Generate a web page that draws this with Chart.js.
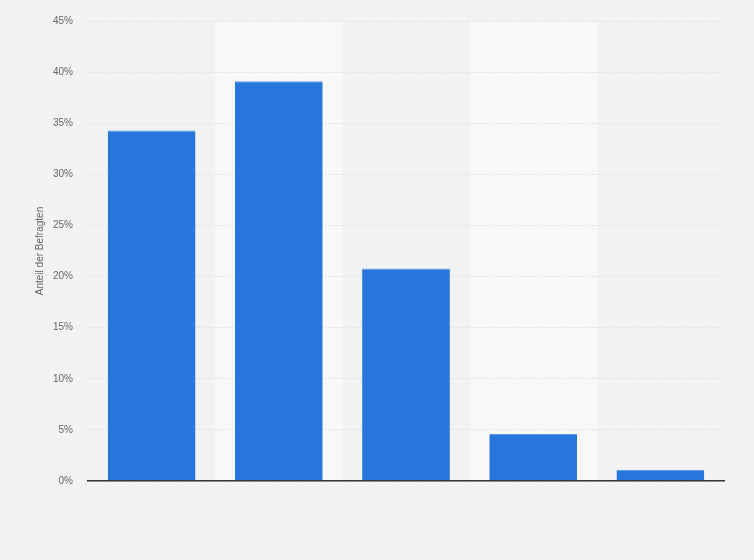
<!DOCTYPE html>
<html>
<head>
<meta charset="utf-8">
<script src="https://cdn.jsdelivr.net/npm/chart.js@4"></script>
<style>
  html, body { margin: 0; padding: 0; background: #f2f2f2; }
  #wrap { width: 754px; height: 560px; }
</style>
</head>
<body>
<div id="wrap"><canvas id="chart" width="754" height="560"></canvas></div>
<script>
// Chart data
const categories = ['1', '2', '3', '4', '5'];
const shares = [34.3, 39.1, 20.8, 4.6, 1.1];
const yTicks = [0, 5, 10, 15, 20, 25, 30, 35, 40, 45];

// Alternating lighter column bands behind the bars
const bandPlugin = {
    id: 'bands',
    beforeDraw: function(chart) {
        const ctx = chart.ctx;
        const area = chart.chartArea;
        const x = chart.scales.x;
        const step = (area.right - area.left) / categories.length;
        ctx.save();
        ctx.fillStyle = '#f2f2f2';
        ctx.fillRect(0, 0, chart.width, chart.height);
        ctx.fillStyle = '#f8f8f8';
        categories.forEach(function(c, i) {
            if (i % 2 === 1) {
                const cx = x.getPixelForValue(i);
                ctx.fillRect(cx - step / 2, area.top, step, area.bottom - area.top);
            }
        });
        ctx.restore();
    }
};

new Chart(document.getElementById('chart'), {
    type: 'bar',
    data: {
        labels: categories,
        datasets: [{
            data: shares,
            backgroundColor: '#2876dd',
            borderColor: '#5b97e6',
            borderWidth: { top: 1, left: 0, right: 0, bottom: 0 },
            borderSkipped: false,
            categoryPercentage: 0.69,
            barPercentage: 1
        }]
    },
    options: {
        responsive: false,
        animation: false,
        layout: { padding: { top: 20, right: 30, left: 34, bottom: 0 } },
        plugins: {
            legend: { display: false },
            tooltip: { enabled: false }
        },
        scales: {
            x: {
                grid: { display: false },
                ticks: { display: false },
                border: { display: true, color: '#333333', width: 1.5, z: 1 },
                afterFit: function(scale) { scale.height = 79; }
            },
            y: {
                min: 0,
                max: 45,
                afterBuildTicks: function(scale) {
                    scale.ticks = yTicks.map(function(v) { return { value: v }; });
                },
                ticks: {
                    color: '#666666',
                    padding: 15,
                    font: { family: 'Arial, "Liberation Sans", sans-serif', size: 10 },
                    callback: function(v) { return v + '%'; }
                },
                grid: {
                    color: '#d8d8d8',
                    drawTicks: false,
                    lineWidth: 1
                },
                border: { display: false, dash: [1, 2] },
                title: {
                    display: true,
                    text: 'Anteil der Befragten',
                    color: '#666666',
                    padding: { top: 0, bottom: 0 },
                    font: { family: 'Arial, "Liberation Sans", sans-serif', size: 10 }
                },
                afterFit: function(scale) { scale.width = 54; }
            }
        }
    },
    plugins: [bandPlugin]
});
</script>
</body>
</html>
